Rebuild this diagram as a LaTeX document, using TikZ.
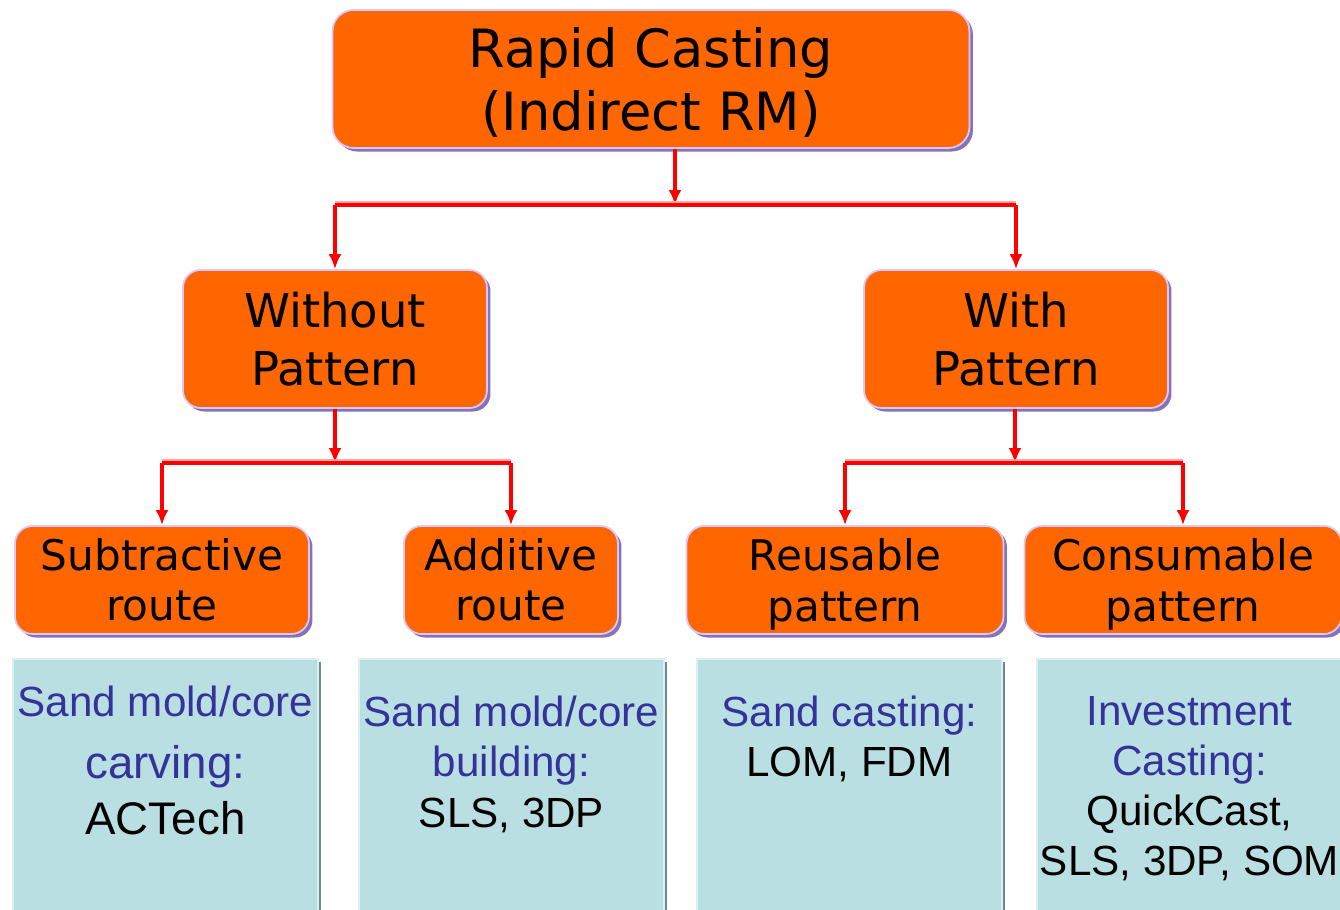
\documentclass[tikz,border=0pt]{standalone}
\usepackage{fontspec}
\setmainfont{DejaVu Sans}
\newfontfamily\infofont{Liberation Sans}
\usepackage{tikz}
\usetikzlibrary{
    arrows.meta,
    positioning,
    shadows
}
\definecolor{castorange}{HTML}{FF6600}
\definecolor{castlavender}{HTML}{D8C8FF}
\definecolor{castpurple}{HTML}{8672B4}
\definecolor{infofill}{HTML}{BADFE3}
\definecolor{infoedge}{HTML}{D9EFF1}
\definecolor{infoshade}{HTML}{6E8C8D}
\definecolor{infoblue}{HTML}{333399}
\newcommand{\nodepth}[1]{\raisebox{0pt}[\height][0pt]{#1}}
\tikzset{
    castbox/.style={
        draw=castlavender,
        rectangle,
        rounded corners=10pt,
        line width=1pt,
        fill=castorange,
        align=center,
        inner sep=0pt,
        drop shadow={shadow xshift=2pt, shadow yshift=-2pt, fill=castpurple, opacity=1}
    },
    infobox/.style={
        draw=infoedge,
        rectangle,
        line width=1pt,
        fill=infofill,
        minimum width=6.1cm,
        minimum height=6cm,
        anchor=north,
        drop shadow={shadow xshift=1.8pt, shadow yshift=-1.8pt, fill=infoshade, opacity=1}
    },
    infotext/.style={
        font=\infofont\fontsize{24}{28.5}\selectfont,
        text=infoblue,
        align=center,
        inner sep=0pt,
        anchor=north
    },
    arr/.style={
        -{Latex[length=3mm, width=2.6mm]},
        draw=red,
        line width=2pt
    },
    bar/.style={
        draw=red,
        line width=1.8pt,
        preaction={draw=red!35, line width=1.8pt, transform canvas={yshift=1.4pt}}
    }
}

\begin{document}
\begin{tikzpicture}[x=0.02cm,y=-0.02cm,>=Latex]
\useasboundingbox (0,0) rectangle (1340,910);
\clip (0,0) rectangle (1340,910);
% orange tree
\node[castbox, rounded corners=12pt, minimum width=12.74cm, minimum height=2.76cm, font=\fontsize{30}{36}\selectfont] (rc) at (651,79) {Rapid Casting\\\nodepth{(Indirect RM)}};
\node[castbox, minimum width=6.08cm, minimum height=2.76cm, font=\fontsize{26.5}{33}\selectfont] (wo) at (335,339) {Without\\Pattern};
\node[castbox, minimum width=6.08cm, minimum height=2.76cm, font=\fontsize{26.5}{33}\selectfont] (wi) at (1016,339) {With\\Pattern};
\node[castbox, minimum width=5.88cm, minimum height=2.16cm, font=\fontsize{24}{28.5}\selectfont] (sub) at (162,580) {Subtractive\\route};
\node[castbox, minimum width=4.28cm, minimum height=2.16cm, font=\fontsize{24}{28.5}\selectfont] (add) at (511,580) {Additive\\route};
\node[castbox, minimum width=6.34cm, minimum height=2.16cm, font=\fontsize{24}{28.5}\selectfont] (reu) at (845,580) {Reusable\\\nodepth{pattern}};
\node[castbox, minimum width=6.34cm, minimum height=2.16cm, font=\fontsize{24}{28.5}\selectfont] (con) at (1183,580) {Consumable\\\nodepth{pattern}};
% connectors
\coordinate (j1) at (675,205);
\coordinate (j2) at (335,463);
\coordinate (j3) at (1015,463);
\draw[arr] (rc.south -| j1) -- (j1);
\draw[bar] (wo.north |- j1) -- (wi.north |- j1);
\draw[arr] (wo.north |- j1) -- (wo.north);
\draw[arr] (wi.north |- j1) -- (wi.north);
\draw[arr] (wo.south) -- (j2);
\draw[bar] (sub.north |- j2) -- (add.north |- j2);
\draw[arr] (sub.north |- j2) -- (sub.north);
\draw[arr] (add.north |- j2) -- (add.north);
\draw[arr] (wi.south -| j3) -- (j3);
\draw[bar] (reu.north |- j3) -- (con.north |- j3);
\draw[arr] (reu.north |- j3) -- (reu.north);
\draw[arr] (con.north |- j3) -- (con.north);
% process boxes
\node[infobox] (s1) at (165.5,658) {};
\node[infobox] (s2) at (511.5,658) {};
\node[infobox] (s3) at (849.5,658) {};
\node[infobox] (s4) at (1189.5,658) {};
\node[infotext, font=\infofont\fontsize{26}{31.9}\selectfont, below=0.56cm of s1.north] (t1) {{\fontsize{24}{28.5}\selectfont Sand mold/core}\\[3pt]carving:\\\textcolor{black}{ACTech}};
\node[infotext, below=0.76cm of s2.north] (t2) {Sand mold/core\\building:\\\textcolor{black}{SLS, 3DP}};
\node[infotext, below=0.76cm of s3.north] (t3) {Sand casting:\\\textcolor{black}{LOM, FDM}};
\node[infotext, below=0.76cm of s4.north] (t4) {Investment\\Casting:\\\textcolor{black}{QuickCast,}\\\textcolor{black}{SLS, 3DP, SOM}};
\end{tikzpicture}
\end{document}
